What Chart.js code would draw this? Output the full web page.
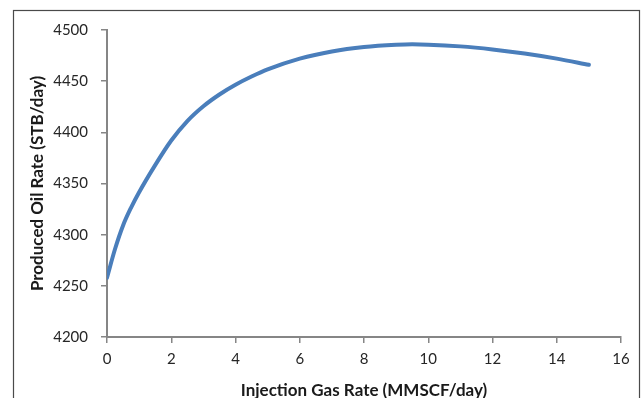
<!DOCTYPE html>
<html>
<head>
<meta charset="utf-8">
<script src="https://cdn.jsdelivr.net/npm/chart.js@4/dist/chart.umd.min.js"></script>
<style>
html,body{margin:0;padding:0;background:#fff;}
#wrap{width:643px;height:398px;position:relative;}
</style>
</head>
<body>
<div id="wrap"><canvas id="c" width="643" height="398"></canvas></div>
<script>
const gasRate = [0, 0.25, 0.5, 0.75, 1, 1.5, 2, 2.5, 3, 3.5, 4, 4.5, 5, 6, 7, 8, 9, 9.5, 10, 11, 12, 13, 14, 15];
const oilRate = [4258, 4286, 4309, 4326.5, 4341.5, 4368, 4392, 4411, 4425.5, 4437, 4446.5, 4454.5, 4461.5, 4472, 4479, 4483.3, 4485.5, 4486, 4485.7, 4484, 4481, 4477, 4472, 4466];
const xTicks = [0, 2, 4, 6, 8, 10, 12, 14, 16];
const yTicks = [4200, 4250, 4300, 4350, 4400, 4450, 4500];
const xTitle = 'Injection Gas Rate (MMSCF/day)';
const yTitle = 'Produced Oil Rate (STB/day)';

const points = gasRate.map((g, i) => ({x: g, y: oilRate[i]}));

const framePlugin = {
  id: 'frame',
  beforeDraw(chart) {
    const ctx = chart.ctx;
    ctx.save();
    ctx.fillStyle = '#ffffff';
    ctx.fillRect(0, 0, chart.width, chart.height);
    ctx.strokeStyle = '#4a4a4a';
    ctx.lineWidth = 1.2;
    ctx.strokeRect(13.5, 10.5, 626, 400);
    ctx.restore();
  }
};

const fontFam = 'Lato, "Open Sans", sans-serif';

new Chart(document.getElementById('c'), {
  type: 'line',
  data: {
    datasets: [{
      data: points,
      borderColor: '#4a7ebb',
      borderWidth: 4,
      pointRadius: 0,
      fill: false,
      cubicInterpolationMode: 'monotone',
      borderCapStyle: 'round'
    }]
  },
  options: {
    responsive: false,
    animation: false,
    devicePixelRatio: 1,
    layout: {padding: {left: 20, top: 30, right: 22, bottom: 0}},
    plugins: {legend: {display: false}, tooltip: {enabled: false}},
    scales: {
      x: {
        type: 'linear',
        min: 0, max: 16,
        afterBuildTicks: s => { s.ticks = xTicks.map(v => ({value: v})); },
        afterFit: s => { s.height = 61; },
        grid: {drawOnChartArea: false, drawTicks: true, tickLength: 6, color: '#868686', lineWidth: 1.5},
        border: {display: true, color: '#868686', width: 2},
        ticks: {color: '#262626', padding: 7, font: {family: fontFam, size: 15}, maxRotation: 0, callback: v => String(v)},
        title: {display: true, text: xTitle, color: '#1a1a1a', padding: {top: 0, bottom: -3}, font: {family: fontFam, size: 17, weight: 'bold'}}
      },
      y: {
        type: 'linear',
        min: 4200, max: 4500,
        afterBuildTicks: s => { s.ticks = yTicks.map(v => ({value: v})); },
        afterFit: s => { s.width = 87; },
        grid: {drawOnChartArea: false, drawTicks: true, tickLength: 6, color: '#868686', lineWidth: 1.5},
        border: {display: true, color: '#868686', width: 2},
        ticks: {color: '#262626', padding: 13, font: {family: fontFam, size: 15}, callback: v => String(v)},
        title: {display: true, text: yTitle, color: '#1a1a1a', padding: {top: 7, bottom: 0}, font: {family: fontFam, size: 17, weight: 'bold'}}
      }
    }
  },
  plugins: [framePlugin]
});
</script>
</body>
</html>
